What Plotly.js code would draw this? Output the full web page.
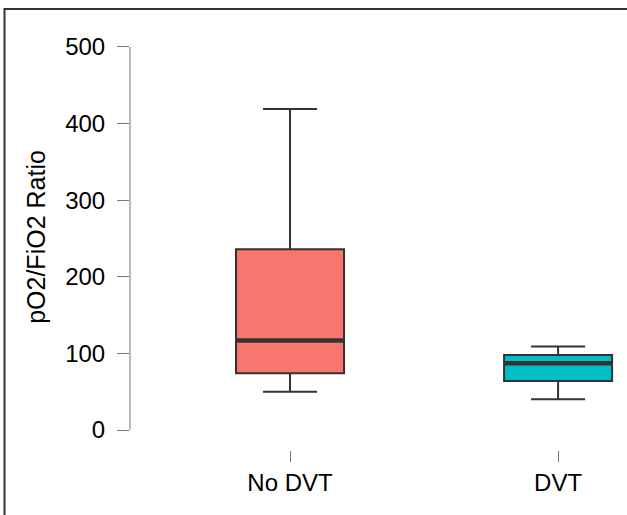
<!DOCTYPE html>
<html>
<head>
<meta charset="utf-8">
<script src="https://cdn.plot.ly/plotly-3.0.1.min.js"></script>
<style>html,body{margin:0;padding:0;background:#fff;}#chart{width:627px;height:515px;}</style>
</head>
<body>
<div id="chart"></div>
<script>
// Data
const categories = ["No DVT", "DVT"];
const lowerWhisker = [50, 40];
const q1Values = [74, 64];
const medianValues = [117, 87];
const q3Values = [236, 98];
const upperWhisker = [419, 109];
const boxColors = ["#F8766D", "#00BFC4"];
const yTickValues = [0, 100, 200, 300, 400, 500];
const yTitle = "pO2/FiO2 Ratio";

const traces = categories.map((c, i) => ({
  type: "box",
  name: c,
  x: [c],
  q1: [q1Values[i]],
  median: [medianValues[i]],
  q3: [q3Values[i]],
  lowerfence: [lowerWhisker[i]],
  upperfence: [upperWhisker[i]],
  boxpoints: false,
  width: 0.403,
  whiskerwidth: 0.5,
  fillcolor: boxColors[i],
  line: {color: "#333333", width: 2},
  hoverinfo: "skip",
  showlegend: false
}));

// thicker median bars
traces.push({
  type: "scatter",
  mode: "markers",
  x: categories,
  y: medianValues,
  marker: {symbol: "line-ew", size: 76, line: {color: "#333333", width: 4.5}},
  hoverinfo: "skip",
  showlegend: false
});

const layout = {
  width: 627,
  height: 515,
  margin: {l: 130, r: 7, t: 24, b: 65},
  paper_bgcolor: "#ffffff",
  plot_bgcolor: "#ffffff",
  font: {family: "Liberation Sans, Arial, sans-serif", color: "#000", size: 24},
  showlegend: false,
  xaxis: {
    type: "category",
    categoryorder: "array",
    categoryarray: categories,
    range: [-0.597, 1.231],
    showline: false,
    showgrid: false,
    zeroline: false,
    ticks: "outside",
    ticklen: 11,
    tickwidth: 1,
    tickcolor: "#777777",
    ticklabelstandoff: 0,
    tickfont: {size: 24, color: "#000"}
  },
  yaxis: {
    range: [-26.1, 530],
    tickvals: yTickValues,
    ticktext: yTickValues.map(String),
    showline: false,
    showgrid: false,
    zeroline: false,
    ticks: "outside",
    ticklen: 12,
    tickwidth: 1,
    tickcolor: "#777777",
    ticklabelstandoff: 7,
    tickfont: {size: 24, color: "#000"},
    title: {text: yTitle, font: {size: 25, color: "#000"}, standoff: 12}
  },
  shapes: [
    {type: "line", xref: "paper", yref: "y", x0: 0, x1: 0, y0: yTickValues[0], y1: yTickValues[yTickValues.length - 1],
     line: {color: "#777777", width: 1}},
    {type: "rect", xref: "paper", yref: "paper", x0: -0.2561, x1: 1.05, y0: -0.4, y1: 1.0352,
     line: {color: "#333333", width: 2}, fillcolor: "rgba(0,0,0,0)", layer: "above"}
  ]
};

Plotly.newPlot("chart", traces, layout, {displayModeBar: false, staticPlot: true});
</script>
</body>
</html>
